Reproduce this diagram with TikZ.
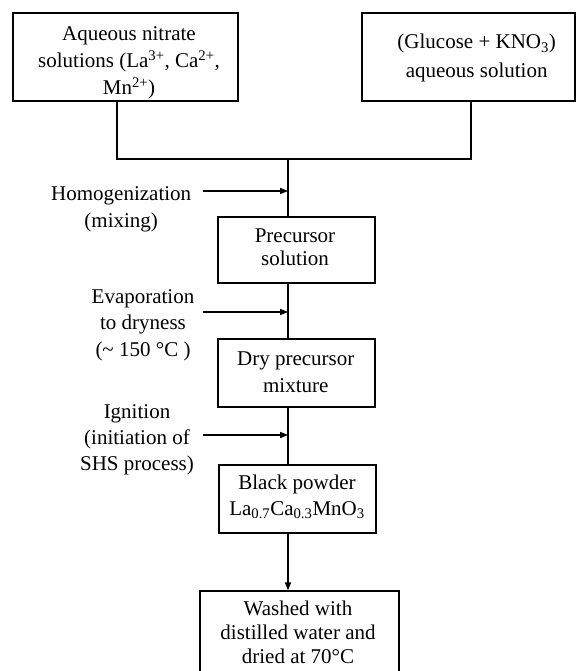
\documentclass[tikz,border=0pt]{standalone}
\usepackage{fontspec}
\setmainfont{Liberation Serif}
\usetikzlibrary{arrows.meta}
\newcommand{\txtsize}[1]{\fontsize{21}{#1}\selectfont}
\begin{document}
\begin{tikzpicture}[x=1pt,y=-1pt,
  box/.style={draw,line width=1.3pt,inner sep=0pt},
  txt/.style={align=center,inner sep=0pt},
  ln/.style={line width=1.3pt},
  arr/.style={line width=1.5pt,-{Triangle[length=8pt,width=6pt]}}]
\useasboundingbox (0,0) rectangle (576,671);
\clip (0,0) rectangle (576,671);
% boxes
\node[box,minimum width=225pt,minimum height=88pt] (src1) at (125.5,57) {};
\node[box,minimum width=213pt,minimum height=88pt] (src2) at (468.5,57) {};
\node[box,minimum width=157pt,minimum height=66pt] (prec) at (296.5,250) {};
\node[box,minimum width=157pt,minimum height=68pt] (dry) at (296.5,373) {};
\node[box,minimum width=157pt,minimum height=68pt] (black) at (297.5,499) {};
\node[box,minimum width=199pt,minimum height=86pt] (wash) at (299.5,634) {};
% box texts
\node[txt,font=\txtsize{27}] (t1) at (129,62.3)
  {\strut Aqueous nitrate\\\strut solutions (La\textsuperscript{3+}, Ca\textsuperscript{2+},\\\strut Mn\textsuperscript{2+})};
\node[txt,font=\txtsize{29}] (t2) at (476.7,57.7)
  {\strut (Glucose + KNO\textsubscript{3})\\\strut aqueous solution};
\node[txt,font=\txtsize{22.5}] (t3) at (295,249.5)
  {\strut Precursor\\\strut solution};
\node[txt,font=\txtsize{27}] (t4) at (295.8,373.1)
  {\strut Dry precursor\\\strut mixture};
\node[txt,font=\txtsize{26}] (t5) at (297,497.1)
  {\strut Black powder\\\strut La\textsubscript{0.7}Ca\textsubscript{0.3}MnO\textsubscript{3}};
\node[txt,font=\txtsize{24}] (t6) at (298,634.2)
  {\strut Washed with\\\strut distilled water and\\\strut dried at 70°C};
% side labels
\node[txt,font=\txtsize{27}] (l1) at (121.2,208.1)
  {\strut Homogenization\\\strut (mixing)};
\node[txt,font=\txtsize{26.5}] (l2) at (143,324.5)
  {\strut Evaporation\\\strut to dryness\\\strut (\textasciitilde{} 150 °C )};
\node[txt,font=\txtsize{26}] (l3) at (137,438.8)
  {\strut Ignition\\\strut (initiation of\\\strut SHS process)};
% junctions
\coordinate (jl) at (117,159);
\coordinate (jr) at (471,159);
\coordinate (jm) at (288,159);
\coordinate (a1) at (203,191);
\coordinate (a2) at (203,312);
\coordinate (a3) at (203,435);
% connectors
\draw[ln] (src1.south -| jl) -- (jl) -- (jr) -- (src2.south -| jr);
\draw[ln] (jm) -- (prec.north -| jm);
\draw[ln] (prec.south -| jm) -- (dry.north -| jm);
\draw[ln] (dry.south -| jm) -- (black.north -| jm);
\draw[arr] (black.south -| jm) -- (wash.north -| jm);
\draw[arr] (a1) -- (a1 -| jm);
\draw[arr] (a2) -- (a2 -| jm);
\draw[arr] (a3) -- (a3 -| jm);
\end{tikzpicture}
\end{document}
